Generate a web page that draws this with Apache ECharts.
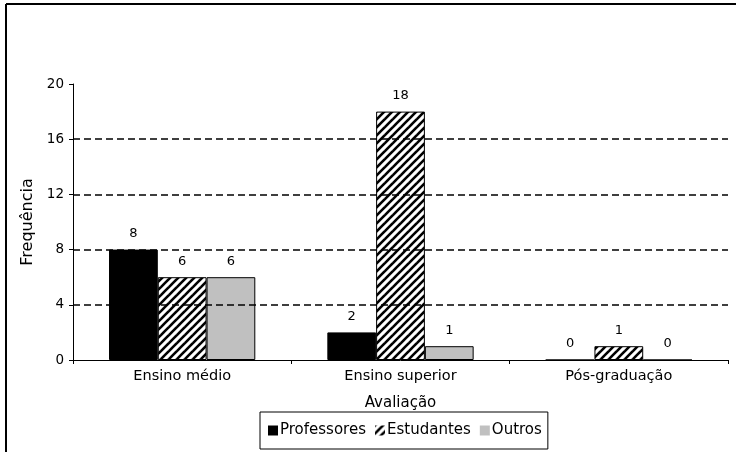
<!DOCTYPE html>
<html><head><meta charset="utf-8">
<script src="https://cdn.jsdelivr.net/npm/echarts@6/dist/echarts.min.js"></script>
<style>html,body{margin:0;padding:0;background:#fff}#c{width:736px;height:452px}</style>
</head><body><div id="c"></div>
<script>
var categories = ['Ensino médio', 'Ensino superior', 'Pós-graduação'];
var professores = [8, 2, 0];
var estudantes = [6, 18, 1];
var outros = [6, 1, 0];
var seriesNames = ['Professores', 'Estudantes', 'Outros'];
var gridTicks = [4, 8, 12, 16];

function hatch() {
  var c = document.createElement('canvas');
  c.width = 8; c.height = 8;
  var g = c.getContext('2d');
  g.fillStyle = '#fff'; g.fillRect(0, 0, 8, 8);
  g.strokeStyle = '#000'; g.lineWidth = 2.6;
  for (var k = -1; k <= 1; k++) {
    g.beginPath();
    g.moveTo(k * 8 - 1, 9);
    g.lineTo(k * 8 + 9, -1);
    g.stroke();
  }
  return c;
}
var hatchPattern = { image: hatch(), repeat: 'repeat' };
var font = 'DejaVu Sans';
var chart = echarts.init(document.getElementById('c'));
var labelCfg = { show: true, position: 'top', distance: 9, color: '#000', fontFamily: font, fontSize: 13 };
chart.setOption({
  animation: false,
  textStyle: { fontFamily: font },
  grid: { left: 73, right: 8, top: 84, bottom: 92 },
  legend: {
    left: 260, top: 412, width: 285, height: 36,
    padding: [11, 6, 11, 8],
    borderColor: '#000', borderWidth: 1,
    itemWidth: 10, itemHeight: 10, itemGap: 9,
    icon: 'rect',
    itemStyle: { borderWidth: 0 },
    textStyle: { fontFamily: font, fontSize: 15, color: '#000', padding: [0, 0, 0, -3] },
    data: seriesNames
  },
  xAxis: {
    type: 'category', data: categories,
    name: 'Avaliação', nameLocation: 'middle', nameGap: 36,
    nameTextStyle: { fontFamily: font, fontSize: 15, color: '#000' },
    axisLine: { lineStyle: { color: '#000', width: 1 } },
    axisTick: { show: true, length: 4, lineStyle: { color: '#000' } },
    axisLabel: { color: '#000', fontFamily: font, fontSize: 14.5, margin: 9 }
  },
  yAxis: {
    type: 'value', min: 0, max: 20, interval: 4,
    name: 'Frequência', nameLocation: 'middle', nameGap: 32,
    nameTextStyle: { fontFamily: font, fontSize: 16, color: '#000' },
    axisLine: { show: true, lineStyle: { color: '#000', width: 1 } },
    axisTick: { show: true, length: 4, lineStyle: { color: '#000' } },
    axisLabel: { color: '#000', fontFamily: font, fontSize: 13.5, margin: 9 },
    splitLine: { show: false }
  },
  series: [
    { name: seriesNames[0], type: 'bar', data: professores, barGap: '0%', barCategoryGap: '33%',
      itemStyle: { color: '#000', borderColor: '#000', borderWidth: 1 }, label: labelCfg,
      markLine: {
        silent: true, symbol: 'none', label: { show: false },
        lineStyle: { color: '#000', type: [7, 4], width: 1.5 },
        data: gridTicks.map(function (v) { return { yAxis: v }; })
      } },
    { name: seriesNames[1], type: 'bar', data: estudantes,
      itemStyle: { color: hatchPattern, borderColor: '#000', borderWidth: 1 }, label: labelCfg },
    { name: seriesNames[2], type: 'bar', data: outros,
      itemStyle: { color: '#c0c0c0', borderColor: '#000', borderWidth: 1 }, label: labelCfg }
  ],
  graphic: [
    { type: 'line', shape: { x1: 6, y1: 4, x2: 736, y2: 4 }, style: { stroke: '#000', lineWidth: 2 } },
    { type: 'line', shape: { x1: 6, y1: 4, x2: 6, y2: 452 }, style: { stroke: '#000', lineWidth: 2 } }
  ]
});
</script></body></html>
